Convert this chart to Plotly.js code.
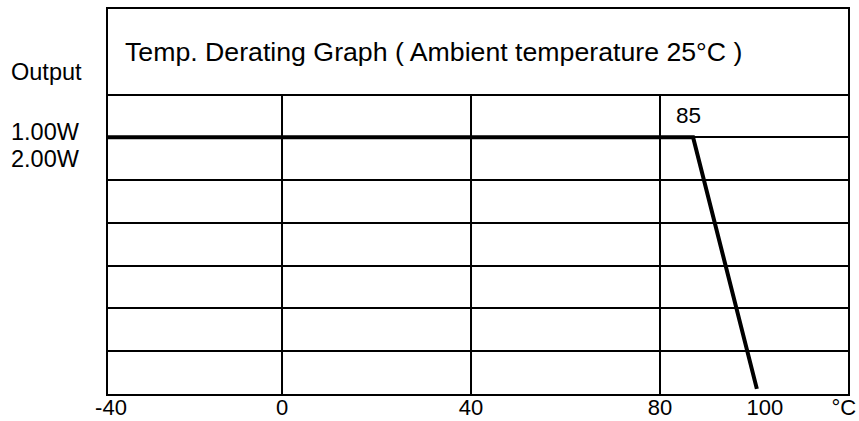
<!DOCTYPE html>
<html>
<head>
<meta charset="utf-8">
<script src="https://cdn.plot.ly/plotly-3.0.1.min.js"></script>
<style>html,body{margin:0;padding:0;background:#fff;}#chart{width:859px;height:421px;}</style>
</head>
<body>
<div id="chart"></div>
<script>
// ---- data ----
var temps = [-37.6, 87, 100.5];          // °C (curve points as drawn)
var output = [1.0, 1.0, 0.02];            // relative output
var gridTemps = [0, 40, 80];              // vertical grid lines
var gridLevels = [1/6, 2/6, 3/6, 4/6, 5/6, 1, 7/6]; // horizontal grid lines
var tickText = ['-40', '0', '40', '80', '100', '°C'];
var tickPos = [-36.2, 0, 40, 80, 102.2, 118.9];
var powerLabels = ['1.00W', '2.00W'];
var kneeLabel = '85';
var titleText = 'Temp. Derating Graph ( Ambient temperature 25°C )';
var yLabel = 'Output';

var FONT = 'Liberation Sans, Arial, sans-serif';

var shapes = gridTemps.map(function (t) {
  return {type: 'line', xref: 'x', yref: 'y', x0: t, x1: t, y0: 0, y1: 7/6,
          line: {color: '#000', width: 2}, layer: 'below'};
});

var annotations = [
  {xref: 'paper', yref: 'paper', x: 0.0199, y: 0.8896, xanchor: 'left', yanchor: 'middle',
   text: titleText, showarrow: false, font: {family: FONT, size: 26.7, color: '#000'}},
  {xref: 'paper', yref: 'y', x: -0.1338, y: 1.256, xanchor: 'left', yanchor: 'middle',
   text: yLabel, showarrow: false, font: {family: FONT, size: 23.5, color: '#000'}},
  {xref: 'paper', yref: 'y', x: -0.1338, y: 1.021, xanchor: 'left', yanchor: 'middle',
   text: powerLabels[0], showarrow: false, font: {family: FONT, size: 23.5, color: '#000'}},
  {xref: 'paper', yref: 'y', x: -0.1338, y: 0.916, xanchor: 'left', yanchor: 'middle',
   text: powerLabels[1], showarrow: false, font: {family: FONT, size: 23.5, color: '#000'}},
  {xref: 'x', yref: 'y', x: 83.0, y: 1.087, xanchor: 'left', yanchor: 'middle',
   text: kneeLabel, showarrow: false, font: {family: FONT, size: 22.5, color: '#000'}}
];

var trace = {
  x: temps, y: output, type: 'scatter', mode: 'lines',
  line: {color: '#000', width: 4}, cliponaxis: false, hoverinfo: 'skip'
};

var layout = {
  width: 859, height: 421,
  margin: {l: 108, r: 11, t: 9, b: 27, pad: 0},
  paper_bgcolor: '#fff', plot_bgcolor: '#fff',
  showlegend: false,
  xaxis: {
    range: [-36.83, 119.79], fixedrange: true,
    tickmode: 'array', tickvals: tickPos, ticktext: tickText,
    showgrid: false, zeroline: false, ticks: '', ticklabelstandoff: -7,
    showline: true, mirror: true, linecolor: '#000', linewidth: 2,
    tickfont: {family: FONT, size: 22, color: '#000'}
  },
  yaxis: {
    range: [0, 1.5], fixedrange: true,
    tickmode: 'array', tickvals: gridLevels, showticklabels: false,
    showgrid: true, gridcolor: '#000', gridwidth: 2, zeroline: false, ticks: '',
    showline: true, mirror: true, linecolor: '#000', linewidth: 2
  },
  shapes: shapes,
  annotations: annotations
};

Plotly.newPlot('chart', [trace], layout, {displayModeBar: false, staticPlot: true});
</script>
</body>
</html>
